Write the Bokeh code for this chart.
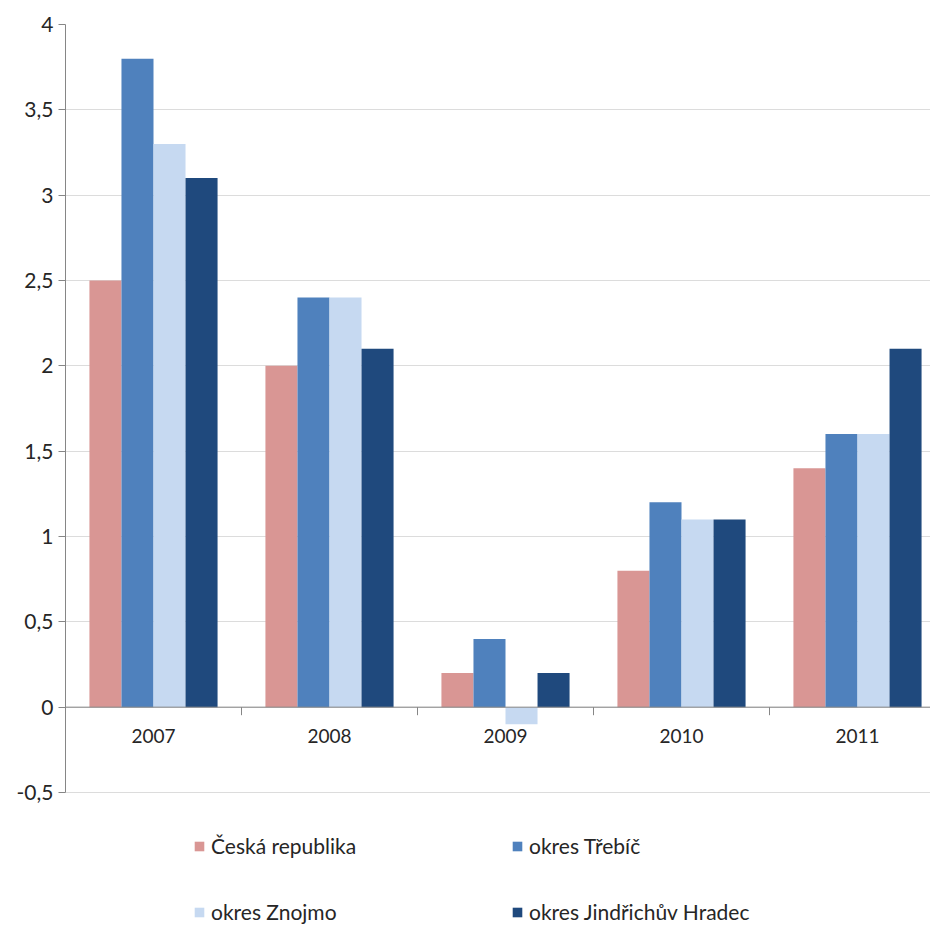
from bokeh.plotting import figure
from bokeh.models import (FixedTicker, CustomJSTickFormatter, Span,
                          Legend, LegendItem, Range1d)
from bokeh.core.properties import value
from bokeh.embed import file_html
from bokeh.resources import INLINE

years = ["2007", "2008", "2009", "2010", "2011"]
series_names = ["Česká republika", "okres Třebíč", "okres Znojmo", "okres Jindřichův Hradec"]
cr = [2.5, 2.0, 0.2, 0.8, 1.4]
trebic = [3.8, 2.4, 0.4, 1.2, 1.6]
znojmo = [3.3, 2.4, -0.1, 1.1, 1.6]
jh = [3.1, 2.1, 0.2, 1.1, 2.1]
y_ticks = [-0.5, 0, 0.5, 1, 1.5, 2, 2.5, 3, 3.5, 4]

colors = ["#d99694", "#4f81bd", "#c6d9f1", "#1f497d"]
FONT = "Lato"
FS = "19px"
FS_BIG = "21px"
TXT = "#262626"
AX = "#868686"

W, H = 930, 924
TOP, LEFT = 24, 65
PX_PER_UNIT = 768 / 4.5
y_start = 4 - (H - TOP) / PX_PER_UNIT
x_end = 0.5 + (W - LEFT) / 176.0

p = figure(width=W, height=H, output_backend="svg", toolbar_location=None,
           x_range=Range1d(0.5, x_end), y_range=Range1d(y_start, 4),
           min_border_left=LEFT, min_border_top=TOP, min_border_right=0, min_border_bottom=0)
p.outline_line_color = None
p.xaxis.visible = False
p.xgrid.visible = False

yax = p.yaxis[0]
yax.ticker = FixedTicker(ticks=y_ticks)
yax.bounds = (min(y_ticks), max(y_ticks))
yax.formatter = CustomJSTickFormatter(code="return tick.toString().replace('.', ',');")
yax.major_label_text_font = FONT
yax.major_label_text_font_size = FS_BIG
yax.major_label_text_color = TXT
yax.axis_line_color = AX
yax.major_tick_line_color = AX
yax.major_tick_out = 7
yax.major_tick_in = 0
yax.minor_tick_line_color = None
yax.major_label_standoff = 5
p.ygrid.ticker = FixedTicker(ticks=y_ticks)
p.ygrid.grid_line_color = "#dcdcdc"

idx = [i + 1 for i in range(len(years))]
bw = 0.182
renderers = []
for j, (vals, c) in enumerate(zip([cr, trebic, znojmo, jh], colors)):
    xs = [i + (j - 1.5) * bw for i in idx]
    r = p.vbar(x=xs, top=vals, bottom=0, width=bw, fill_color=c, line_color=None)
    renderers.append(r)

p.add_layout(Span(location=0, dimension="width", line_color=AX, line_width=1))

# category boundary ticks on the zero line
bx = [i + 0.5 for i in idx[:-1]]
p.segment(x0=bx, y0=[0] * len(bx), x1=bx, y1=[-0.047] * len(bx), line_color=AX, line_width=1)

p.text(x=idx, y=[0] * len(idx), text=years, text_font=value(FONT), text_font_size=FS,
       text_color=TXT, text_align="center", text_baseline="middle", y_offset=29)

def make_legend(items, loc):
    return Legend(items=items, location=loc, orientation="horizontal",
                  label_text_font=FONT, label_text_font_size=FS_BIG, label_text_color=TXT,
                  glyph_width=12, glyph_height=12, label_standoff=6, label_width=300,
                  label_height=22, spacing=0, padding=0, margin=0,
                  background_fill_alpha=0, border_line_alpha=0)

l1 = make_legend([LegendItem(label=series_names[0], renderers=[renderers[0]]),
                  LegendItem(label=series_names[1], renderers=[renderers[1]])], (128, 66))
l2 = make_legend([LegendItem(label=series_names[2], renderers=[renderers[2]]),
                  LegendItem(label=series_names[3], renderers=[renderers[3]])], (128, 0))
p.add_layout(l1, "center")
p.add_layout(l2, "center")

open("out.html", "w").write(file_html(p, INLINE))
